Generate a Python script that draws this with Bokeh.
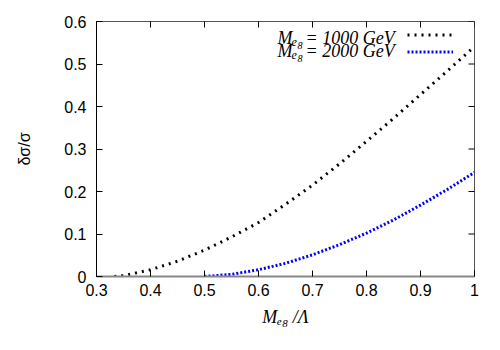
import math
from bokeh.plotting import figure
from bokeh.models import (Label, Legend, LegendItem, FixedTicker,
                          CustomJSTickFormatter, Range1d)
from bokeh.core.properties import value
from bokeh.embed import file_html
from bokeh.resources import INLINE

# ---- data ----
black_x = [0.333, 0.35, 0.4, 0.45, 0.5, 0.55, 0.6, 0.65, 0.7, 0.75, 0.8, 0.85, 0.9, 0.95, 1.0]
black_y = [0.0, 0.002, 0.016, 0.036, 0.062, 0.093, 0.127, 0.170, 0.215, 0.265, 0.318, 0.372, 0.428, 0.484, 0.541]
blue_x = [0.5, 0.55, 0.6, 0.65, 0.7, 0.75, 0.8, 0.85, 0.9, 0.95, 1.0]
blue_y = [0.0, 0.005, 0.016, 0.031, 0.051, 0.075, 0.102, 0.133, 0.168, 0.205, 0.245]
x_ticks = [0.3, 0.4, 0.5, 0.6, 0.7, 0.8, 0.9, 1.0]
y_ticks = [0.0, 0.1, 0.2, 0.3, 0.4, 0.5, 0.6]
series_mass = ["1000 GeV", "2000 GeV"]
x_title = "M\u2091\u2088 /Λ"
y_title = "δσ/σ"

X0, X1, Y0, Y1 = 0.3, 1.0, 0.0, 0.6
FL, FT, FW, FH = 96, 21, 378, 255  # frame on canvas (px)
W, H = 492, 342

p = figure(width=W, height=H, x_range=Range1d(X0, X1), y_range=Range1d(Y0, Y1),
           output_backend="svg", toolbar_location=None,
           min_border_left=FL, min_border_top=FT,
           min_border_right=W - FL - FW, min_border_bottom=H - FT - FH)
p.xgrid.visible = False
p.ygrid.visible = False
p.outline_line_color = "#555555"
p.background_fill_color = "white"

fmt = CustomJSTickFormatter(code="return String(Math.round(tick*10)/10);")
for ax, tk in ((p.xaxis[0], x_ticks), (p.yaxis[0], y_ticks)):
    ax.ticker = FixedTicker(ticks=tk)
    ax.formatter = fmt
    ax.major_tick_in = 6
    ax.major_tick_out = 0
    ax.minor_tick_line_color = None
    ax.major_label_text_font = "Liberation Sans"
    ax.major_label_text_font_size = "16px"
    ax.major_label_text_color = "black"
    ax.major_tick_line_color = "black"
    ax.axis_label_text_color = "black"
p.yaxis[0].axis_line_color = "black"
p.yaxis[0].major_label_standoff = 10
p.yaxis[0].axis_label = y_title
p.yaxis[0].axis_label_text_font = "Liberation Sans"
p.yaxis[0].axis_label_text_font_style = "normal"
p.yaxis[0].axis_label_text_font_size = "16px"
p.yaxis[0].axis_label_standoff = 28
p.xaxis[0].axis_line_color = "#888888"
p.xaxis[0].axis_line_width = 2
p.xaxis[0].major_label_standoff = 7
p.xaxis[0].axis_label = x_title
p.xaxis[0].axis_label_text_font = "Liberation Serif"
p.xaxis[0].axis_label_text_font_style = "italic"
p.xaxis[0].axis_label_text_font_size = "18px"
p.xaxis[0].axis_label_standoff = 8

# mirrored tick marks on top and right edges (half of each dash is clipped)
p.scatter(x_ticks, [Y1] * len(x_ticks), marker="dash", angle=math.pi / 2, size=12,
          line_color="black", line_width=1)
p.scatter([X1] * len(y_ticks), y_ticks, marker="dash", size=12,
          line_color="black", line_width=1)

r1 = p.line(black_x, black_y, line_color="black", line_width=3, line_dash="2 5")
r2 = p.line(blue_x, blue_y, line_color="#0000ff", line_width=3, line_dash="2 2")

leg = Legend(items=[LegendItem(label=value(""), renderers=[r1]),
                    LegendItem(label=value(""), renderers=[r2])],
             location=(311, 218), glyph_width=46, glyph_height=13, label_width=0,
             label_height=13, label_standoff=0, padding=0, margin=0, spacing=4,
             border_line_color=None, background_fill_alpha=0,
             label_text_font_size="1px")
p.add_layout(leg, "center")


def lab(px, py, text, size, style="italic", font="Liberation Serif", **kw):
    # screen units, measured from the frame's bottom-left corner
    p.add_layout(Label(x=px - FL, y=(FT + FH) - py, x_units="screen", y_units="screen",
                       text=text, text_font=font,
                       text_font_style=style, text_font_size=size,
                       text_baseline="alphabetic", text_color="black", **kw))


def mass_symbol(px, base):
    lab(px, base, "M", "18px")
    lab(px + 14, base + 4, "e", "12px")
    lab(px + 20, base + 8, "8", "10px")


# legend texts
for base, m in ((37, series_mass[0]), (50, series_mass[1])):
    mass_symbol(277, base)
    lab(305, base, "= " + m, "18px")

open("out.html", "w").write(file_html(p, INLINE))
